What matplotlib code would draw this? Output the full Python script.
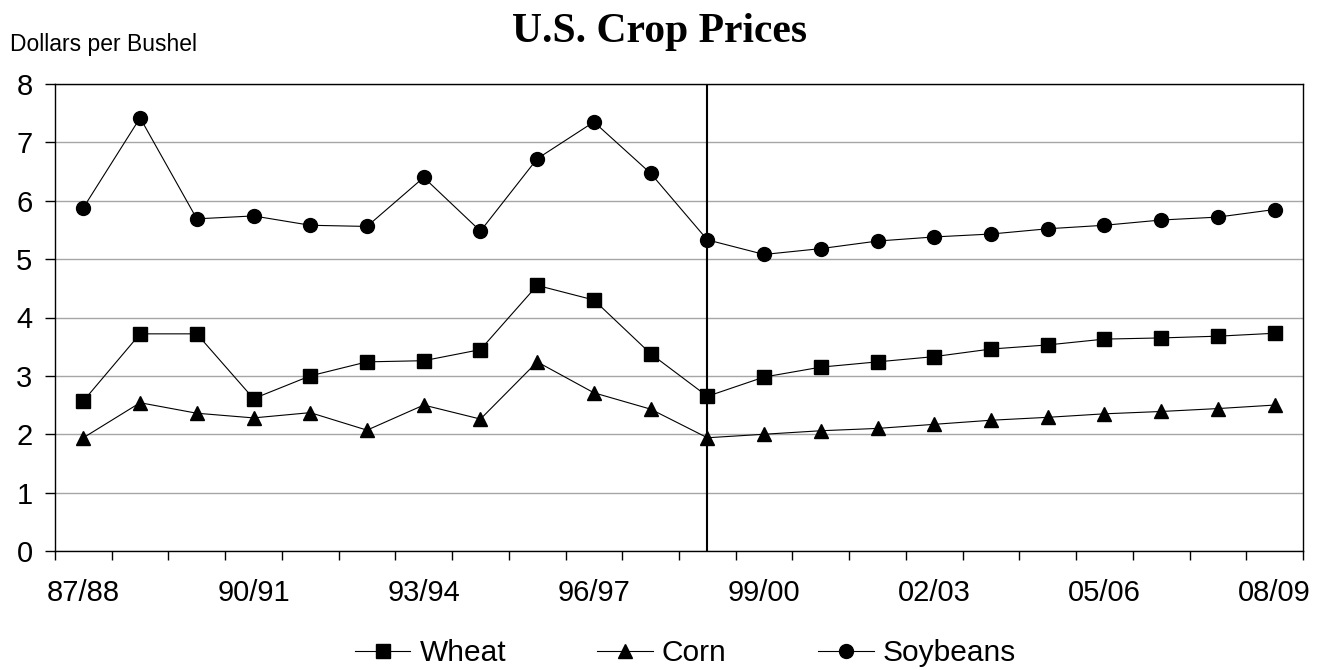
import matplotlib.pyplot as plt
import numpy as np

plt.rcParams['font.family'] = ['Liberation Sans', 'DejaVu Sans']

# ==== DATA ====
years = ["87/88", "88/89", "89/90", "90/91", "91/92", "92/93", "93/94", "94/95",
         "95/96", "96/97", "97/98", "98/99", "99/00", "00/01", "01/02", "02/03",
         "03/04", "04/05", "05/06", "06/07", "07/08", "08/09"]
wheat = [2.57, 3.72, 3.72, 2.61, 3.00, 3.24, 3.26, 3.45, 4.55, 4.30, 3.38, 2.65,
         2.98, 3.15, 3.24, 3.33, 3.46, 3.53, 3.63, 3.65, 3.68, 3.73]
corn = [1.94, 2.54, 2.36, 2.28, 2.37, 2.07, 2.50, 2.26, 3.24, 2.71, 2.43, 1.94,
        2.00, 2.06, 2.10, 2.17, 2.24, 2.29, 2.35, 2.39, 2.44, 2.50]
soybeans = [5.88, 7.42, 5.69, 5.74, 5.58, 5.56, 6.40, 5.48, 6.72, 7.35, 6.47, 5.33,
            5.08, 5.18, 5.31, 5.38, 5.43, 5.52, 5.58, 5.67, 5.72, 5.85]
label_every = 3
divider_year = "98/99"

x = np.arange(len(years))

fig = plt.figure(figsize=(13.26, 6.70), dpi=100)
# plot area: x 55..1303 px, y 84..551 px
ax = fig.add_axes([55 / 1326, 1 - 551 / 670, 1248 / 1326, 467 / 670])

ax.plot(x, wheat, color='black', lw=0.8, marker='s', ms=10, label='Wheat')
ax.plot(x, corn, color='black', lw=0.8, marker='^', ms=10, label='Corn')
ax.plot(x, soybeans, color='black', lw=0.8, marker='o', ms=10, label='Soybeans')

ax.axvline(years.index(divider_year), color='black', lw=1.5, zorder=3)

ax.set_xlim(-0.5, len(years) - 0.5)
ax.set_ylim(0, 8)
ax.set_yticks(range(0, 9))
ax.yaxis.grid(True, color='#a6a6a6', lw=1.0)
ax.set_axisbelow(True)

# category axis: ticks between categories, labels every 3rd year
ax.set_xticks(np.arange(-0.5, len(years), 1.0), minor=True)
ax.set_xticks(x[::label_every])
ax.set_xticklabels(years[::label_every])
ax.tick_params(axis='x', which='major', length=0, pad=20, labelsize=21)
ax.tick_params(axis='x', which='minor', length=6.5, width=1, direction='out')
ax.tick_params(axis='y', length=7.2, width=1, direction='out', labelsize=21, pad=9)

for s in ax.spines.values():
    s.set_linewidth(1)
    s.set_color('black')

fig.text(660 / 1326, 1 - 42 / 670, "U.S. Crop Prices", ha='center', va='baseline',
         family='Liberation Serif', fontweight='bold', fontsize=30)
fig.text(10 / 1326, 1 - 51 / 670, "Dollars per Bushel", ha='left', va='baseline',
         fontsize=16.5)

ax.legend(loc='center', bbox_to_anchor=(0.505, -0.2184), ncol=3, frameon=False,
          fontsize=21.5, handlelength=1.87, columnspacing=3.05, handletextpad=0.3,
          borderpad=0)

plt.savefig("out.png", dpi=100)
